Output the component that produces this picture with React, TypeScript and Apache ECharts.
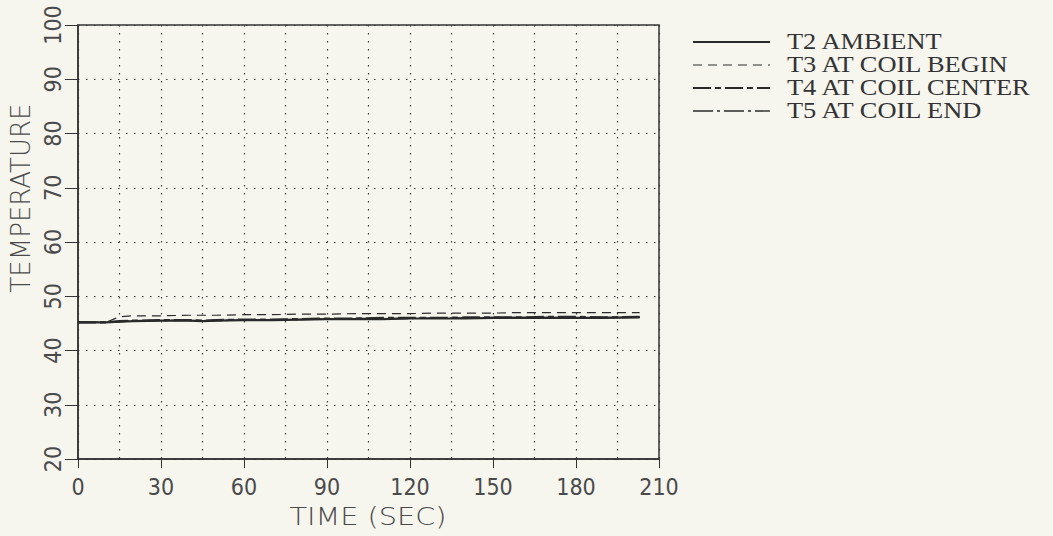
import React, { useEffect, useRef } from "react";
import * as echarts from "echarts";

const timeSec = [0, 10, 15, 20, 30, 40, 45, 50, 60, 70, 80, 90, 100, 110, 120, 130, 140, 150, 160, 170, 180, 190, 203];
const t2Ambient = [45.2, 45.2, 45.3, 45.4, 45.5, 45.5, 45.4, 45.5, 45.6, 45.6, 45.7, 45.8, 45.8, 45.8, 45.9, 45.9, 45.9, 46.0, 46.0, 46.0, 46.0, 46.0, 46.1];
const t3CoilBegin = [45.2, 45.2, 46.2, 46.4, 46.4, 46.5, 46.5, 46.5, 46.6, 46.6, 46.7, 46.7, 46.8, 46.8, 46.8, 46.9, 46.9, 46.9, 47.0, 47.0, 47.0, 47.0, 47.0];
const t4CoilCenter = [45.2, 45.2, 45.4, 45.5, 45.6, 45.6, 45.5, 45.6, 45.7, 45.7, 45.8, 45.9, 45.9, 46.0, 46.0, 46.0, 46.1, 46.1, 46.1, 46.2, 46.2, 46.1, 46.2];
const t5CoilEnd = [45.2, 45.2, 45.3, 45.5, 45.5, 45.6, 45.5, 45.5, 45.6, 45.7, 45.7, 45.8, 45.9, 45.9, 45.9, 46.0, 46.0, 46.1, 46.1, 46.1, 46.0, 46.1, 46.1];

const legendNames = ["T2 AMBIENT", "T3 AT COIL BEGIN", "T4 AT COIL CENTER", "T5 AT COIL END"];
const xTicks = [0, 30, 60, 90, 120, 150, 180, 210];
const yTicks = [20, 30, 40, 50, 60, 70, 80, 90, 100];

const ink = "#2a2a2a";
const labelInk = "#4a4a4a";
const bg = "#f6f6ef";
const plotFont = '"DejaVu Sans"';
const tickFont = '"Liberation Sans Narrow", "DejaVu Sans Condensed", "DejaVu Sans"';
const legendFont = '"Liberation Serif"';

const dashes: (number[] | "solid")[] = ["solid", [9, 6], [18, 4, 6, 4], [20, 4, 3, 4]];
const widths = [2.2, 1.2, 2.2, 1.4];

function pairs(vals: number[]) {
  return timeSec.map((t, i) => [t, vals[i]]);
}

export default function App() {
  const ref = useRef<HTMLDivElement>(null);
  useEffect(() => {
    if (!ref.current) return;
    const chart = echarts.init(ref.current, null, { renderer: "svg" });
    const seriesVals = [t2Ambient, t3CoilBegin, t4CoilCenter, t5CoilEnd];
    const graphics: any[] = [];
    legendNames.forEach((name, i) => {
      const y = 42 + i * 23;
      graphics.push({
        type: "line",
        shape: { x1: 693, y1: y, x2: 770, y2: y },
        style: {
          stroke: ink,
          lineWidth: widths[i],
          lineDash: dashes[i] === "solid" ? null : (dashes[i] as number[]),
        },
      });
      graphics.push({
        type: "text",
        x: 787,
        y: y - 1,
        scaleX: 1.1,
        style: {
          text: name,
          fill: "#333",
          font: `24px ${legendFont}`,
          verticalAlign: "middle",
          align: "left",
        },
      });
    });
    graphics.push({
      type: "text",
      x: 21,
      y: 198,
      rotation: Math.PI / 2,
      style: {
        text: "TEMPERATURE",
        fill: labelInk,
        font: `300 26px ${plotFont}`,
        align: "center",
        verticalAlign: "middle",
      },
    });
    graphics.push({
      type: "text",
      x: 368,
      y: 516,
      scaleX: 1.15,
      style: {
        text: "TIME (SEC)",
        fill: labelInk,
        font: `300 25px ${plotFont}`,
        align: "center",
        verticalAlign: "middle",
      },
    });

    const dotted = { color: "#3a3a3a", type: [1.5, 6.5], width: 1.2 };

    chart.setOption({
      animation: false,
      backgroundColor: bg,
      grid: {
        left: 78,
        right: 1053 - 659,
        top: 25,
        bottom: 536 - 459,
        show: true,
        borderColor: "#333",
        borderWidth: 1.5,
        backgroundColor: "transparent",
      },
      xAxis: {
        type: "value",
        min: 0,
        max: 210,
        interval: 30,
        axisLine: { show: true, lineStyle: { color: "#333", width: 1.5 } },
        axisTick: { show: true, length: 9, inside: false, lineStyle: { color: "#333" } },
        axisLabel: {
          fontFamily: tickFont,
          fontSize: 23,
          color: labelInk,
          margin: 16,
          formatter: (v: number) => (xTicks.includes(v) ? String(v) : ""),
        },
        splitLine: { show: true, lineStyle: dotted },
        minorTick: { show: false, splitNumber: 2 },
        minorSplitLine: { show: true, lineStyle: dotted },
      },
      yAxis: {
        type: "value",
        min: 20,
        max: 100,
        interval: 10,
        axisLine: { show: true, lineStyle: { color: "#333", width: 1.5 } },
        axisTick: { show: true, length: 13, inside: false, lineStyle: { color: "#333" } },
        axisLabel: {
          rotate: 90,
          fontFamily: tickFont,
          fontSize: 23,
          color: labelInk,
          margin: 14,
          formatter: (v: number) => (yTicks.includes(v) ? String(v) : ""),
        },
        splitLine: { show: true, lineStyle: dotted },
      },
      graphic: graphics,
      series: seriesVals.map((vals, i) => ({
        type: "line",
        name: legendNames[i],
        data: pairs(vals),
        symbol: "none",
        lineStyle: {
          color: ink,
          width: widths[i],
          type: dashes[i],
        },
      })),
    });
    return () => chart.dispose();
  }, []);
  return (
    <div
      ref={ref}
      style={{ position: "absolute", left: 0, top: 0, width: 1053, height: 536, background: bg }}
    />
  );
}
